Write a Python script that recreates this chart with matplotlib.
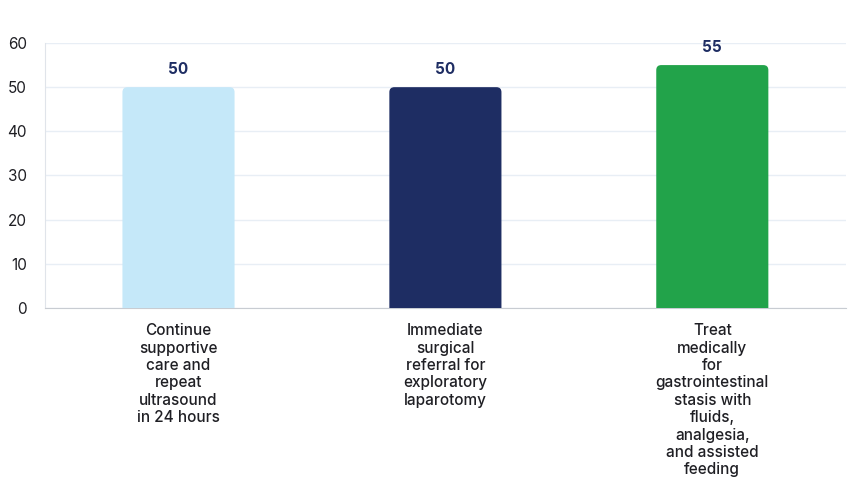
import numpy as np
import matplotlib
matplotlib.use('Agg')
import matplotlib.pyplot as plt
from matplotlib.patches import FancyBboxPatch

plt.rcParams['font.family'] = ['Inter', 'DejaVu Sans']

# data
categories = ['Continue\nsupportive\ncare and\nrepeat\nultrasound\nin 24 hours',
              'Immediate\nsurgical\nreferral for\nexploratory\nlaparotomy',
              'Treat\nmedically\nfor\ngastrointestinal\nstasis with\nfluids,\nanalgesia,\nand assisted\nfeeding']
values = [50, 50, 55]
farben = ['#C5E8F9', '#1E2D63', '#22A34A']

fig = plt.figure(figsize=(8.5, 4.92), dpi=100)
ax = fig.add_axes([0.053, 0.374, 0.942, 0.5386])

x = np.arange(len(values))
bars = ax.bar(x, values, width=0.42, color=farben)

# swap the plain bars for ones with rounded tops
ax.set_xlim(-0.5, 2.5)
ax.set_ylim(0, 60)
px_x = 3.0 / (0.942 * 850)
px_y = 60.0 / (0.5386 * 492)
for b, c in zip(bars, farben):
    b.set_visible(False)
    r = 5 * px_x
    p = FancyBboxPatch((b.get_x(), -2), b.get_width(), b.get_height() + 2,
                       boxstyle='round,pad=0,rounding_size=%f' % r,
                       mutation_aspect=px_y / px_x,
                       facecolor=c, edgecolor='none', zorder=3)
    ax.add_patch(p)

for xi, v in zip(x, values):
    ax.annotate(str(v), (xi, v), xytext=(0, 7), textcoords='offset points',
                ha='center', va='bottom', fontsize=11, fontweight='bold',
                color='#1E2D63')

ax.set_yticks(np.arange(0, 61, 10))
ax.set_xticks(x)
ax.set_xticklabels(categories, fontsize=11, color='#1F1F24', linespacing=1.2,
                   fontweight='medium')
ax.tick_params(axis='x', length=0, pad=11)
ax.tick_params(axis='y', length=0, pad=13, labelsize=11, labelcolor='#1F1F24')
for t in ax.get_xticklabels():
    t.set_ha('center')
    t.set_va('top')
ax.grid(axis='y', color='#E8EEF5', lw=1)
ax.set_axisbelow(True)
ax.spines['top'].set_visible(False)
ax.spines['right'].set_visible(False)
ax.spines['left'].set_color('#E0E4EA')
ax.spines['bottom'].set_color('#C8CCD2')

fig.savefig('out.png', dpi=100)
